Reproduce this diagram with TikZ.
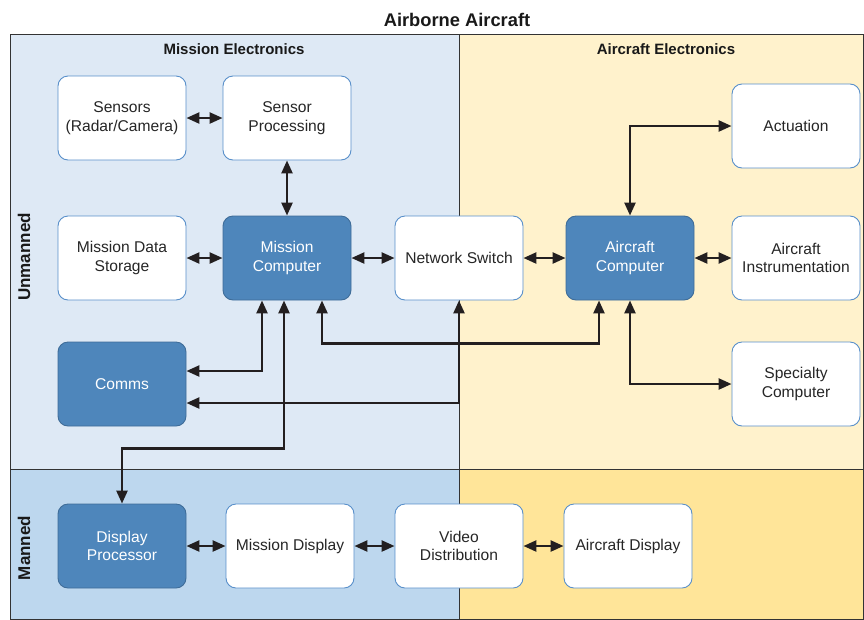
\documentclass[tikz,border=0pt]{standalone}
\usepackage{fontspec}
\setmainfont{Liberation Sans}
\usetikzlibrary{arrows.meta}

\definecolor{missionbg}{RGB}{222,233,245}
\definecolor{aircraftbg}{RGB}{255,242,204}
\definecolor{mannedbg}{RGB}{189,215,238}
\definecolor{mannedair}{RGB}{255,229,153}
\definecolor{boxline}{RGB}{88,143,202}
\definecolor{darkfill}{RGB}{78,134,187}
\definecolor{darkline}{RGB}{62,108,152}
\definecolor{linkcol}{RGB}{35,31,32}

\begin{document}
\begin{tikzpicture}[x=1pt, y=-1pt,
  box/.style={
    shape=rectangle,
    rounded corners=10pt,
    minimum width=128pt,
    minimum height=84pt,
    align=center,
    font=\fontsize{15.6}{18.5}\selectfont,
    text=black!85,
    draw=boxline,
    line width=0.9pt,
    fill=white,
  },
  darkbox/.style={box, fill=darkfill, draw=darkline, text=white},
  heading/.style={font=\bfseries\fontsize{15}{18}\selectfont, text=black!90},
]

\useasboundingbox (0,0) rectangle (864,619);

% background regions
\fill[missionbg] (10,34) rectangle (459,469);
\fill[aircraftbg] (459,34) rectangle (863.5,469);
\fill[mannedbg] (10,469) rectangle (459,619);
\fill[mannedair] (459,469) rectangle (863.5,619);
\draw[black!80, line width=0.8pt] (10,34) rectangle (863.5,619);
\draw[black!80, line width=0.8pt] (459,34) -- (459,619);
\draw[black!80, line width=0.8pt] (10,469) -- (863.5,469);

% titles
\node[heading, font=\bfseries\fontsize{18.3}{20}\selectfont] (title) at (457,20) {Airborne Aircraft};
\node[heading] (melec) at (234,49) {Mission Electronics};
\node[heading] (aelec) at (666,49) {Aircraft Electronics};
\node[heading, font=\bfseries\fontsize{17}{20}\selectfont, rotate=90] (unmanned) at (24,257) {Unmanned};
\node[heading, font=\bfseries\fontsize{17}{20}\selectfont, rotate=90] (manned) at (24,548) {Manned};

% unmanned part
\node[box] (sens) at (122,118) {Sensors\\(Radar/Camera)};
\node[box] (sproc) at (287,118) {Sensor\\Processing};
\node[box] (mstore) at (122,258) {Mission Data\\Storage};
\node[darkbox] (mcomp) at (287,258) {Mission\\Computer};
\node[box] (nswitch) at (459,258) {Network Switch};
\node[darkbox] (accomp) at (630,258) {Aircraft\\Computer};
\node[box] (act) at (796,126) {Actuation};
\node[box] (ainst) at (796,258) {Aircraft\\Instrumentation};
\node[box] (spec) at (796,384) {Specialty\\Computer};
\node[darkbox] (comms) at (122,384) {Comms};

% manned part
\node[darkbox] (dproc) at (122,546) {Display\\Processor};
\node[box] (mdisp) at (290,546) {Mission Display};
\node[box] (vdist) at (459,546) {Video\\Distribution};
\node[box] (adisp) at (628,546) {Aircraft Display};

\begin{scope}[{Triangle[length=13pt,width=11pt]}-{Triangle[length=13pt,width=11pt]}, line width=2.5pt, linkcol]
  \draw (sens) -- (sproc);
  \draw (sproc) -- (mcomp);
  \draw (mstore) -- (mcomp);
  \draw (mcomp) -- (nswitch);
  \draw (nswitch) -- (accomp);
  \draw (accomp) -- (ainst);
  \draw (accomp.north) |- (act.west);
  \draw (accomp.south) |- (spec.west);
  \draw ([xshift=35pt]mcomp.south) -- ++(0,43) -| ([xshift=-31pt]accomp.south);
  \draw ([xshift=-25pt]mcomp.south) |- ([yshift=13pt]comms.east);
  \draw (nswitch.south) |- ([yshift=-19pt]comms.east);
  \draw ([xshift=-3pt]mcomp.south) -- ++(0,148) -| (dproc.north);
  \draw (dproc) -- (mdisp);
  \draw (mdisp) -- (vdist);
  \draw (vdist) -- (adisp);
\end{scope}

\end{tikzpicture}
\end{document}
